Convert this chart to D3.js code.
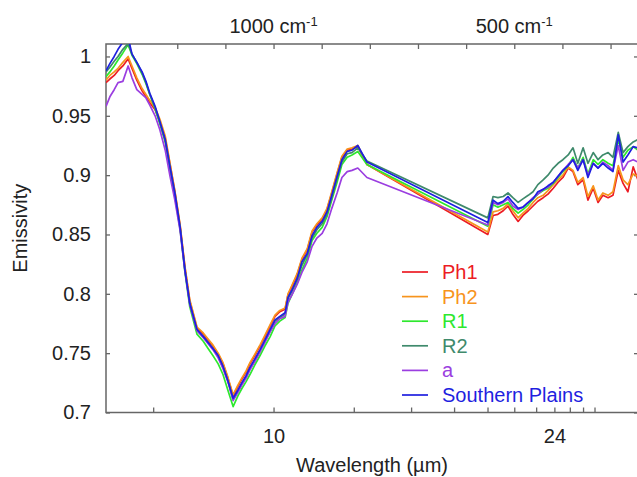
<!DOCTYPE html>
<html>
<head>
<meta charset="utf-8">
<script src="https://cdnjs.cloudflare.com/ajax/libs/d3/7.8.5/d3.min.js"></script>
<style>
body { margin: 0; background: #fff; }
svg text { font-family: Arial, "Liberation Sans", sans-serif; fill: #222; }
.axis path { display: none; }
.axis line { stroke: #666; stroke-width: 1.3; }
</style>
</head>
<body>
<div id="chart"></div>
<script>
// wavenumber (cm-1) of each sample, the x axis is linear in wavenumber
var wavenumber = [1348,1340,1331,1323,1313,1302,1294,1284,1273,1265,1257,1246,1236,1225,1215,1205,1194,1184,1174,1159,
    1146,1136,1126,1115,1105,1095,1084,1074,1066,1057,1049,1039,1028,1018,1007,997,987,976,970,962,
    951,941,930,920,910,899,889,879,868,858,847,837,825,806,
    555,544,534,523,513,503,492,482,471,461,451,440,430,419,409,399,388,378,368,357,
    347,336,326,316,305,295,284,274,264,253,243];

var ph1 = [0.978,0.981,0.984,0.988,0.992,0.998,0.990,0.980,0.971,0.966,0.961,0.955,0.945,0.931,0.909,0.886,0.857,0.822,0.794,0.771,
    0.766,0.761,0.756,0.749,0.741,0.729,0.714,0.722,0.728,0.734,0.741,0.748,0.756,0.764,0.773,0.781,0.785,0.787,0.799,0.806,
    0.816,0.829,0.837,0.852,0.858,0.863,0.871,0.885,0.901,0.915,0.921,0.922,0.924,0.909,
    0.850,0.866,0.867,0.870,0.874,0.867,0.861,0.866,0.870,0.874,0.878,0.881,0.884,0.889,0.894,0.898,0.906,0.903,0.892,0.896,
    0.879,0.889,0.877,0.883,0.881,0.883,0.904,0.893,0.886,0.907,0.896];

var ph2 = [0.980,0.984,0.987,0.990,0.995,1.000,0.992,0.982,0.973,0.968,0.963,0.957,0.947,0.933,0.910,0.887,0.858,0.823,0.795,0.772,
    0.767,0.762,0.757,0.750,0.742,0.730,0.715,0.723,0.729,0.735,0.742,0.749,0.757,0.765,0.774,0.782,0.786,0.788,0.800,0.807,
    0.817,0.830,0.838,0.853,0.859,0.864,0.872,0.886,0.902,0.916,0.922,0.923,0.925,0.909,
    0.852,0.869,0.870,0.872,0.876,0.870,0.864,0.868,0.872,0.877,0.881,0.883,0.887,0.892,0.896,0.900,0.907,0.904,0.894,0.898,
    0.882,0.891,0.879,0.885,0.883,0.886,0.908,0.896,0.892,0.901,0.899];

var r1 = [0.983,0.987,0.992,0.997,1.003,1.010,1.001,0.994,0.985,0.977,0.968,0.956,0.943,0.928,0.905,0.882,0.854,0.818,0.789,0.766,
    0.760,0.754,0.748,0.741,0.732,0.719,0.705,0.714,0.720,0.726,0.732,0.740,0.748,0.756,0.764,0.773,0.777,0.780,0.792,0.799,
    0.809,0.820,0.830,0.845,0.851,0.856,0.865,0.879,0.894,0.909,0.915,0.917,0.920,0.909,
    0.857,0.875,0.873,0.875,0.877,0.872,0.868,0.871,0.875,0.880,0.884,0.887,0.889,0.893,0.898,0.903,0.908,0.915,0.906,0.915,
    0.901,0.913,0.909,0.913,0.910,0.908,0.930,0.915,0.921,0.924,0.921];

var r2 = [0.987,0.991,0.996,1.000,1.006,1.011,1.002,0.995,0.986,0.978,0.968,0.957,0.944,0.929,0.906,0.884,0.855,0.820,0.792,0.769,
    0.764,0.759,0.754,0.747,0.738,0.727,0.711,0.718,0.724,0.730,0.737,0.744,0.752,0.760,0.769,0.777,0.780,0.783,0.796,0.802,
    0.812,0.824,0.833,0.847,0.854,0.859,0.867,0.881,0.897,0.911,0.918,0.919,0.923,0.912,
    0.864,0.882,0.881,0.882,0.885,0.881,0.877,0.880,0.883,0.886,0.892,0.896,0.900,0.906,0.910,0.913,0.917,0.923,0.910,0.923,
    0.910,0.919,0.913,0.917,0.919,0.915,0.936,0.919,0.924,0.928,0.930];

var a = [0.958,0.966,0.972,0.978,0.979,0.992,0.982,0.972,0.968,0.965,0.959,0.950,0.938,0.921,0.899,0.879,0.853,0.819,0.791,0.769,
    0.763,0.758,0.753,0.746,0.737,0.726,0.710,0.717,0.723,0.729,0.736,0.743,0.751,0.759,0.768,0.775,0.779,0.781,0.793,0.799,
    0.808,0.818,0.827,0.840,0.847,0.851,0.859,0.872,0.885,0.898,0.903,0.904,0.906,0.898,
    0.858,0.877,0.875,0.877,0.880,0.874,0.871,0.873,0.877,0.881,0.884,0.888,0.890,0.894,0.899,0.904,0.909,0.913,0.906,0.913,
    0.900,0.910,0.906,0.911,0.908,0.904,0.925,0.904,0.911,0.913,0.911];

var southernPlains = [0.988,0.994,1.000,1.006,1.012,1.016,1.002,0.995,0.987,0.979,0.969,0.958,0.945,0.930,0.907,0.885,0.856,0.820,0.792,0.770,
    0.764,0.759,0.754,0.748,0.739,0.727,0.712,0.719,0.725,0.731,0.738,0.745,0.753,0.761,0.770,0.778,0.781,0.784,0.797,0.803,
    0.813,0.827,0.834,0.849,0.856,0.861,0.869,0.883,0.899,0.913,0.920,0.921,0.925,0.911,
    0.860,0.879,0.876,0.878,0.882,0.877,0.872,0.873,0.877,0.880,0.886,0.888,0.891,0.894,0.899,0.904,0.908,0.913,0.904,0.913,
    0.898,0.910,0.906,0.910,0.906,0.903,0.934,0.911,0.917,0.924,0.923];

var seriesNames = ["Ph1", "Ph2", "R1", "R2", "a", "Southern Plains"];
var seriesValues = [ph1, ph2, r1, r2, a, southernPlains];
var seriesColors = ["#ec1c24", "#f7941d", "#2ee82e", "#3f8a6c", "#9b3ee0", "#1f1fe0"];

var wavelengthTicks = [8, 10, 12, 14, 16, 18, 20, 22, 24, 26, 28, 30];
var wavelengthLabeled = [10, 24];
var wavenumberTicks = [1300, 1200, 1100, 1000, 900, 800, 700, 600, 500, 400, 300];
var wavenumberLabeled = [1000, 500];
var emissivityTicks = [0.7, 0.75, 0.8, 0.85, 0.9, 0.95, 1];

var W = 637, H = 477;
var plot = {left: 106, right: 638, top: 44, bottom: 412.5};
var fontSize = "20px";

var svg = d3.select("#chart").append("svg")
    .attr("width", W)
    .attr("height", H);

var x = d3.scaleLinear().domain([1348, 243]).range([plot.left, plot.right]);
var y = d3.scaleLinear().domain([0.7, 1.0105]).range([plot.bottom, plot.top]);

svg.append("defs").append("clipPath")
    .attr("id", "plot-clip")
    .append("rect")
    .attr("x", plot.left)
    .attr("y", plot.top)
    .attr("width", plot.right - plot.left)
    .attr("height", plot.bottom - plot.top);

// axes with inward ticks
svg.append("g")
    .attr("class", "axis")
    .attr("transform", "translate(0," + plot.bottom + ")")
    .call(d3.axisBottom(x)
        .tickValues(wavelengthTicks.map(function(d){ return 10000 / d; }))
        .tickSize(-5)
        .tickPadding(16)
        .tickFormat(function(d){
            var l = Math.round(10000 / d);
            return wavelengthLabeled.indexOf(l) >= 0 ? l : "";
        }))
    .selectAll("text").style("font-size", fontSize).attr("fill", "#222");

svg.append("g")
    .attr("class", "axis")
    .attr("transform", "translate(0," + plot.top + ")")
    .call(d3.axisTop(x).tickValues(wavenumberTicks).tickSize(-5).tickFormat(""));

svg.append("g")
    .attr("class", "axis")
    .attr("transform", "translate(" + plot.left + ",0)")
    .call(d3.axisLeft(y)
        .tickValues(emissivityTicks)
        .tickSize(-4)
        .tickPadding(15)
        .tickFormat(function(d){ return String(d); }))
    .selectAll("text").style("font-size", fontSize).attr("fill", "#222");

svg.append("g")
    .attr("class", "axis")
    .attr("transform", "translate(" + plot.right + ",0)")
    .call(d3.axisRight(y).tickValues(emissivityTicks).tickSize(-4).tickFormat(""));

// frame
svg.append("rect")
    .attr("x", plot.left)
    .attr("y", plot.top)
    .attr("width", plot.right - plot.left)
    .attr("height", plot.bottom - plot.top)
    .attr("fill", "none")
    .attr("stroke", "#666")
    .attr("stroke-width", 1.5);

// top wavenumber labels
var topLabels = svg.selectAll(".toplabel")
    .data(wavenumberLabeled)
    .enter().append("text")
    .attr("class", "toplabel")
    .attr("x", function(d){ return x(d); })
    .attr("y", 33)
    .attr("text-anchor", "middle")
    .style("font-size", fontSize);
topLabels.append("tspan").text(function(d){ return d + " cm"; });
topLabels.append("tspan").attr("dy", -7).style("font-size", "13px").text("-1");

// lines
var line = d3.line()
    .x(function(d, i){ return x(wavenumber[i]); })
    .y(function(d){ return y(d); });

svg.append("g")
    .attr("clip-path", "url(#plot-clip)")
    .selectAll("path")
    .data(seriesValues)
    .enter().append("path")
    .attr("d", line)
    .attr("fill", "none")
    .attr("stroke", function(d, i){ return seriesColors[i]; })
    .attr("stroke-width", 1.7)
    .attr("stroke-linejoin", "round");

// legend
var legend = svg.append("g").attr("transform", "translate(402,272)");
var rows = legend.selectAll("g")
    .data(seriesNames)
    .enter().append("g")
    .attr("transform", function(d, i){ return "translate(0," + (i * 24.6) + ")"; });
rows.append("line")
    .attr("x1", 0).attr("x2", 26)
    .attr("stroke", function(d, i){ return seriesColors[i]; })
    .attr("stroke-width", 1.7);
rows.append("text")
    .attr("x", 40)
    .attr("dy", "0.35em")
    .style("font-size", fontSize)
    .style("fill", function(d, i){ return seriesColors[i]; })
    .text(function(d){ return d; });

// axis titles
svg.append("text")
    .attr("x", (plot.left + plot.right) / 2)
    .attr("y", 472)
    .attr("text-anchor", "middle")
    .style("font-size", fontSize)
    .text("Wavelength (\u00b5m)");

svg.append("text")
    .attr("transform", "translate(27," + ((plot.top + plot.bottom) / 2) + ") rotate(-90)")
    .attr("text-anchor", "middle")
    .style("font-size", fontSize)
    .text("Emissivity");
</script>
</body>
</html>
